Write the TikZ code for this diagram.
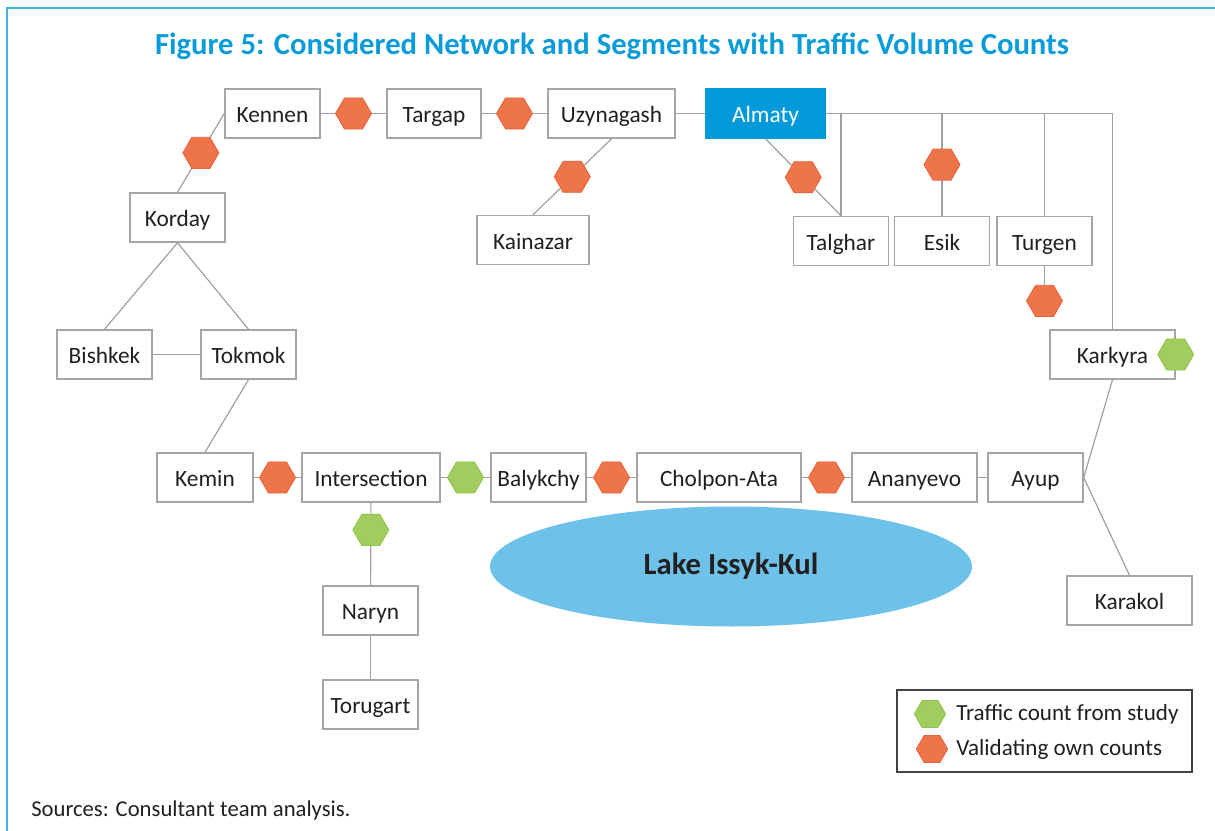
\documentclass[tikz,border=0pt]{standalone}
\usepackage{fontspec}
\setmainfont{Carlito}
\usetikzlibrary{shapes.geometric,positioning}
\definecolor{frameblue}{HTML}{3DB5E6}
\definecolor{titleblue}{HTML}{0A9BD9}
\definecolor{almatyblue}{HTML}{009ADB}
\definecolor{lakeblue}{HTML}{6EC1E9}
\definecolor{valorange}{HTML}{EE754A}
\definecolor{valedge}{HTML}{E9603A}
\definecolor{studygreen}{HTML}{A2CC5E}
\definecolor{studyedge}{HTML}{8DC449}
\definecolor{boxgray}{HTML}{A5A5A5}
\definecolor{linegray}{HTML}{A0A0A0}
\definecolor{inkgray}{HTML}{231F20}

\begin{document}
\begin{tikzpicture}[x=0.75pt, y=-0.75pt,
  town/.style={rectangle, draw=boxgray, line width=1.1pt, fill=white, text=inkgray, minimum width=#1*0.75pt, minimum height=36.75pt, inner sep=0pt, text height=17pt, text depth=3pt, font=\fontsize{17.5}{20}\selectfont},
  town/.default=95,
  link/.style={draw=linegray, line width=0.9pt},
  hexval/.style={regular polygon, regular polygon sides=6, minimum size=27pt, inner sep=0pt, fill=valorange, draw=valedge, line width=0.6pt},
  hexstudy/.style={hexval, fill=studygreen, draw=studyedge},
  legtext/.style={anchor=west, inner sep=0pt, text=inkgray, font=\fontsize{17.3}{20}\selectfont}
]
  \useasboundingbox (0,0) rectangle (1215,831);
  \draw[frameblue, line width=1.6pt] (7,831) -- (7,8) -- (1215,8);

  \node[anchor=base, text=titleblue, font=\fontsize{23}{26}\selectfont\bfseries] (title) at (612,55) {Figure 5: Considered Network and Segments with Traffic Volume Counts};

  \node[town]      (kennen)    at (272.5,113.5) {Kennen};
  \node[town=94]   (targap)    at (434,113.5)   {Targap};
  \node[town=127]  (uzynagash) at (611.5,113.5) {Uzynagash};
  \node[town=119, fill=almatyblue, draw=almatyblue, text=white] (almaty) at (765.5,113.5) {Almaty};
  \node[town]      (korday)    at (177.5,217.5) {Korday};
  \node[town=112]  (kainazar)  at (533,240)     {Kainazar};
  \node[town]      (talghar)   at (841,241)     {Talghar};
  \node[town]      (esik)      at (942,241)     {Esik};
  \node[town]      (turgen)    at (1044.5,241)  {Turgen};
  \node[town=125]  (karkyra)   at (1112.5,354.5) {Karkyra};
  \node[town]      (bishkek)   at (104.5,354.5) {Bishkek};
  \node[town]      (tokmok)    at (248.5,354.5) {Tokmok};
  \node[town=96]   (kemin)     at (205,477.5)   {Kemin};
  \node[town=138]  (intersect) at (371,477.5)   {Intersection};
  \node[town]      (balykchy)  at (538.5,477.5) {Balykchy};
  \node[town=164]  (cholpon)   at (719,477.5)   {Cholpon-Ata};
  \node[town=125]  (ananyevo)  at (914.5,477.5) {Ananyevo};
  \node[town]      (ayup)      at (1035.5,477.5) {Ayup};
  \node[town=125]  (karakol)   at (1129.5,600.5) {Karakol};
  \node[town]      (naryn)     at (370.5,610.5) {Naryn};
  \node[town]      (torugart)  at (370.5,704.5) {Torugart};

  \node[ellipse, fill=lakeblue, minimum width=361.5pt, minimum height=90pt, text=inkgray, font=\fontsize{23}{26}\selectfont\bfseries] (lake) at (731,566.5) {Lake Issyk-Kul};

  \draw[link] (kennen) -- node[hexval] (hkt) {} (targap);
  \draw[link] (targap) -- node[hexval] (htu) {} (uzynagash);
  \draw[link] (uzynagash) -- (almaty);
  \draw[link] (korday.north) -- node[hexval] (hkk) {} (kennen.west);
  \draw[link] (uzynagash.south) -- node[hexval] (huk) {} (kainazar.north);
  \draw[link] (almaty.south) -- node[hexval] (hat) {} (talghar.north);
  \draw[link] (almaty.east) -| (karkyra.north);
  \draw[link] (talghar.north |- almaty.east) -- (talghar.north);
  \draw[link] (esik.north |- almaty.east) -- node[hexval] (hes) {} (esik.north);
  \draw[link] (turgen.north |- almaty.east) -- (turgen.north);
  \node[hexval, below=14pt of turgen] (htg) {};
  \draw[link] (turgen) -- (htg);
  \node[hexstudy] (hkr) at (karkyra.east) {};

  \draw[link] (korday.south) -- (bishkek.north);
  \draw[link] (korday.south) -- (tokmok.north);
  \draw[link] (bishkek) -- (tokmok);
  \draw[link] (tokmok.south) -- (kemin.north);

  \draw[link] (kemin) -- node[hexval] (hki) {} (intersect);
  \draw[link] (intersect) -- node[hexstudy] (hib) {} (balykchy);
  \draw[link] (balykchy) -- node[hexval] (hbc) {} (cholpon);
  \draw[link] (cholpon) -- node[hexval] (hca) {} (ananyevo);
  \draw[link] (ananyevo) -- (ayup);
  \draw[link] (intersect) -- node[hexstudy, pos=0.33] (hin) {} (naryn);
  \draw[link] (naryn) -- (torugart);
  \draw[link] (karkyra.south) -- (ayup.east);
  \draw[link] (ayup.east) -- (karakol.north);

  \node[draw=inkgray!85, line width=0.9pt, minimum width=221.25pt, minimum height=61.5pt] (legend) at (1044.5,731) {};
  \node[hexstudy, minimum size=23.5pt] (lgstudy) at (930,714) {};
  \node[hexval, minimum size=23.5pt] (lgval) at (932,749) {};
  \node[legtext] (lgstudytxt) at (956,714) {Traffic count from study};
  \node[legtext] (lgvaltxt) at (956,749) {Validating own counts};

  \node[anchor=base west, inner sep=0pt, text=inkgray, font=\fontsize{17}{20}\selectfont] (sources) at (31,816) {Sources: Consultant team analysis.};
\end{tikzpicture}
\end{document}
